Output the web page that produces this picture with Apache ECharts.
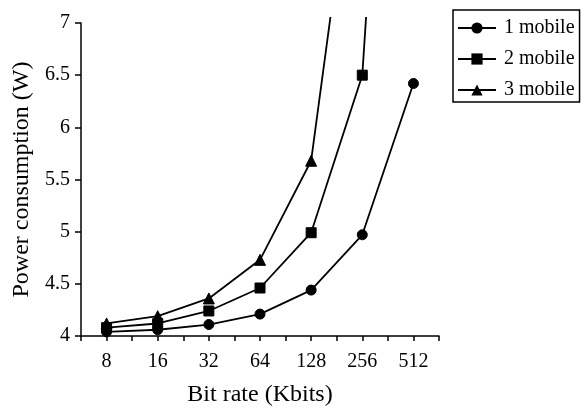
<!DOCTYPE html>
<html>
<head>
<meta charset="utf-8">
<script src="https://cdn.jsdelivr.net/npm/echarts@6/dist/echarts.min.js"></script>
<style>
  html, body { margin: 0; padding: 0; background: #fff; }
  #chart { width: 583px; height: 410px; }
</style>
</head>
<body>
<div id="chart"></div>
<script>
// Bit rates (Kbits) on the horizontal axis
const categories = ['8', '16', '32', '64', '128', '256', '512'];

// Power consumption (W) per number of mobiles
const mobile1 = [4.04, 4.06, 4.11, 4.21, 4.44, 4.97, 6.42];
const mobile2 = [4.08, 4.12, 4.24, 4.46, 4.99, 6.50, 14.0];
const mobile3 = [4.12, 4.19, 4.36, 4.73, 5.68, 9.33, null];

const seriesNames = ['1 mobile', '2 mobile', '3 mobile'];
const yTicks = [4, 4.5, 5, 5.5, 6, 6.5, 7];

const FONT = 'Liberation Serif';
const yMin = 4, yMax = 7;

// Plot box (pixels) and a slightly taller box that the lines are clipped to
const gridLeft = 81, gridRight = 144, gridTop = 23, gridBottom = 74;
const clipTop = 18;
const pxPerUnit = (410 - gridTop - gridBottom) / (yMax - yMin);
const yMaxClip = yMax + (gridTop - clipTop) / pxPerUnit;

const toPoints = arr => arr.map((v, i) => [i, v]);

const chart = echarts.init(document.getElementById('chart'), null, { renderer: 'canvas' });

const xBase = {
  type: 'value',
  min: -0.5,
  max: categories.length - 0.5,
  interval: 0.5,
  splitLine: { show: false }
};

const markers = ['circle', 'rect', 'triangle'];
const markerSize = [10, 10, 11];
const values = [mobile1, mobile2, mobile3];

chart.setOption({
  animation: false,
  backgroundColor: '#fff',
  textStyle: { fontFamily: FONT, color: '#000' },
  grid: [
    { left: gridLeft, right: gridRight, top: gridTop, bottom: gridBottom, containLabel: false, outerBoundsMode: 'none' },
    { left: gridLeft, right: gridRight, top: clipTop, bottom: gridBottom, containLabel: false, outerBoundsMode: 'none' }
  ],
  xAxis: [
    Object.assign({}, xBase, {
      gridIndex: 0,
      name: 'Bit rate (Kbits)',
      nameLocation: 'middle',
      nameGap: 47,
      nameTextStyle: { fontFamily: FONT, fontSize: 24, color: '#000' },
      axisLine: { show: true, onZero: false, lineStyle: { color: '#000', width: 1.5 } },
      axisTick: { show: true, length: 5, inside: false, lineStyle: { color: '#000', width: 1.5 } },
      axisLabel: {
        fontFamily: FONT, fontSize: 20, color: '#000', margin: 16,
        formatter: v => (Number.isInteger(v) ? categories[v] : '')
      }
    }),
    Object.assign({}, xBase, {
      gridIndex: 1,
      show: false
    })
  ],
  yAxis: [
    {
      gridIndex: 0,
      type: 'value',
      min: yMin,
      max: yMax,
      interval: 0.5,
      name: 'Power consumption (W)',
      nameLocation: 'middle',
      nameGap: 47,
      nameTextStyle: { fontFamily: FONT, fontSize: 24, color: '#000' },
      splitLine: { show: false },
      axisLine: { show: true, onZero: false, lineStyle: { color: '#000', width: 1.5 } },
      axisTick: { show: true, length: 6, inside: false, lineStyle: { color: '#000', width: 1.5 } },
      axisLabel: {
        fontFamily: FONT, fontSize: 20, color: '#000', margin: 11,
        formatter: v => (yTicks.includes(v) ? String(v) : '')
      }
    },
    {
      gridIndex: 1,
      type: 'value',
      min: yMin,
      max: yMaxClip,
      show: false,
      splitLine: { show: false }
    }
  ],
  legend: {
    data: seriesNames,
    orient: 'vertical',
    left: 453,
    top: 10,
    padding: [7, 5, 1, 4],
    itemGap: 9,
    itemWidth: 38,
    itemHeight: 14,
    borderColor: '#000',
    borderWidth: 1.5,
    borderRadius: 0,
    textStyle: { fontFamily: FONT, fontSize: 20, color: '#000', lineHeight: 22, padding: [0, 0, 0, 3] }
  },
  series: seriesNames.map((name, k) => ({
    name: name,
    type: 'line',
    xAxisIndex: 1,
    yAxisIndex: 1,
    data: toPoints(values[k]),
    symbol: markers[k],
    symbolSize: markerSize[k],
    clip: true,
    connectNulls: false,
    lineStyle: { color: '#000', width: 1.8 },
    itemStyle: { color: '#000', borderColor: '#000' },
    emphasis: { disabled: true }
  }))
});
</script>
</body>
</html>
